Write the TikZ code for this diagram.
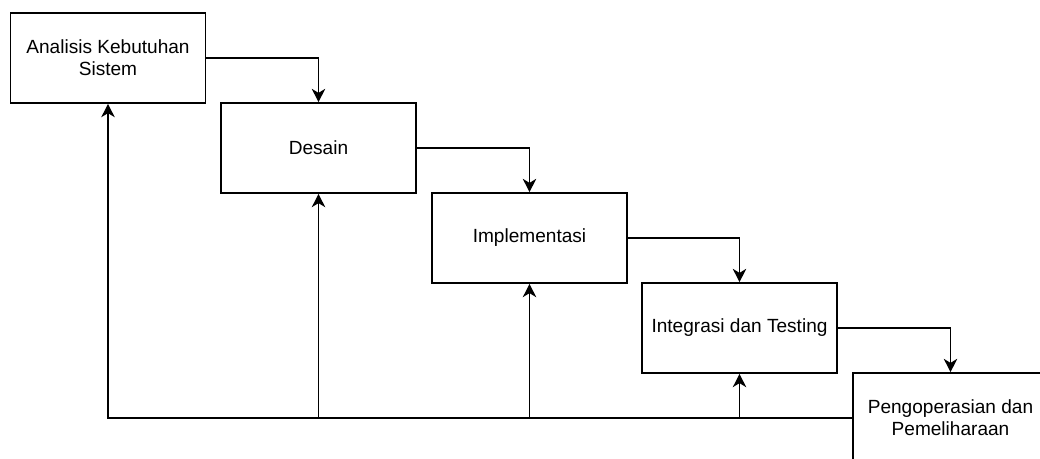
\documentclass[tikz,border=0pt]{standalone}
\usepackage{fontspec}
\setmainfont{Liberation Sans}
\usetikzlibrary{arrows.meta}
\begin{document}
\begin{tikzpicture}[x=0.75pt,y=-0.75pt,
  box/.style={draw=black,line width=1.2pt,fill=white,minimum width=146.25pt,minimum height=67.5pt,
    inner sep=0pt,align=center,font=\fontsize{14.3}{16.5}\selectfont},
  link/.style={draw=black,line width=1.2pt},
  arr/.style={link,-{Stealth[length=10pt,width=10pt,inset=3pt]}}]
\useasboundingbox (0,0) rectangle (1040,458);
\clip (0,0) rectangle (1040,458);
\node[box] (a) at (108,58) {Analisis Kebutuhan\\Sistem};
\node[box] (b) at (318.5,148) {Desain};
\node[box] (c) at (529.5,238) {Implementasi};
\node[box] (d) at (739.5,328) {Integrasi dan Testing};
\node[box] (e) at (950.5,418) {Pengoperasian dan\\Pemeliharaan};
\draw[arr] (a.east) -| (b.north);
\draw[arr] (b.east) -| (c.north);
\draw[arr] (c.east) -| (d.north);
\draw[arr] (d.east) -| (e.north);
\coordinate (jb) at (b.south |- e.west);
\coordinate (jc) at (c.south |- e.west);
\coordinate (jd) at (d.south |- e.west);
\draw[arr] (e.west) -| (a.south);
\draw[arr] (jb) -- (b.south);
\draw[arr] (jc) -- (c.south);
\draw[arr] (jd) -- (d.south);
\end{tikzpicture}
\end{document}
